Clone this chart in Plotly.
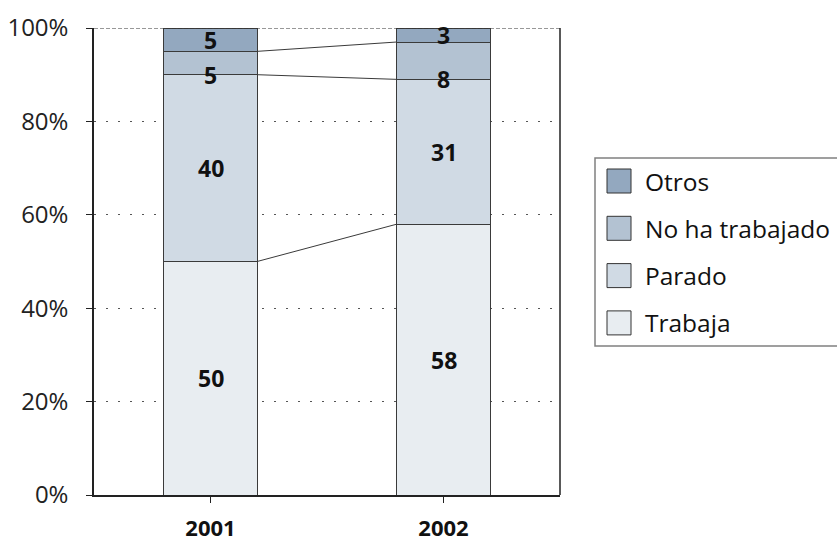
import plotly.graph_objects as go

# Categories and stacked shares (%)
years = ["2001", "2002"]
series_names = ["Trabaja", "Parado", "No ha trabajado", "Otros"]
trabaja = [50, 58]
parado = [40, 31]
no_ha_trabajado = [5, 8]
otros = [5, 3]
y_ticks = [0, 20, 40, 60, 80, 100]
y_tick_labels = ["0%", "20%", "40%", "60%", "80%", "100%"]

series_values = [trabaja, parado, no_ha_trabajado, otros]
colors = ["#e8edf1", "#d0dae4", "#b3c2d2", "#93a8bf"]
outline = "#3a3a3a"
font_family = "Open Sans, Noto Sans, sans-serif"
bar_width = 0.4
xpos = list(range(len(years)))

W, H = 837, 543
ML, MR, MT, MB = 94, 277, 28, 48
PW, PH = W - ML - MR, H - MT - MB


def px_x(px):
    return (px - ML) / PW


def px_y(py):
    return (H - MB - py) / PH


fig = go.Figure()

for name, vals, col in zip(series_names, series_values, colors):
    fig.add_trace(go.Bar(
        x=xpos, y=vals, name=name, width=bar_width,
        marker=dict(color=col, line=dict(color=outline, width=1)),
        hoverinfo="name+y", showlegend=False,
    ))

# Series connector lines between the stacked segments
cum = [[0, 0]]
for vals in series_values:
    cum.append([cum[-1][j] + vals[j] for j in range(len(years))])
for level in cum[1:-1]:
    fig.add_trace(go.Scatter(
        x=[xpos[0] + bar_width / 2, xpos[1] - bar_width / 2],
        y=level, mode="lines", line=dict(color="#3a3a3a", width=1),
        showlegend=False, hoverinfo="skip",
    ))

# Value labels
for i, vals in enumerate(series_values):
    for j, v in enumerate(vals):
        bottom = cum[i][j]
        ylab = bottom if series_names[i] == "No ha trabajado" else bottom + v / 2
        fig.add_annotation(
            x=xpos[j], y=ylab, text=f"<b>{v}</b>", showarrow=False,
            font=dict(family=font_family, size=23, color="#111111"),
        )

# Top dashed line at 100% and right border of the plot area
fig.add_shape(type="line", xref="paper", yref="y", x0=0, x1=1, y0=100, y1=100,
              line=dict(color="#333333", width=1, dash="4px,2px"), layer="above")
fig.add_shape(type="line", xref="paper", yref="paper", x0=1, x1=1, y0=0, y1=1,
              line=dict(color="#222222", width=1.5), layer="above")

# Legend box (top item = last stacked series)
box_l, box_t, box_b = 595, 158, 346
fig.add_shape(type="rect", xref="paper", yref="paper",
              x0=px_x(box_l), x1=px_x(W + 10), y0=px_y(box_b), y1=px_y(box_t),
              line=dict(color="#808080", width=1.5), fillcolor="white")
row0, row_step, sq = 181, 47.3, 24
for k, (name, col) in enumerate(zip(reversed(series_names), reversed(colors))):
    cy = row0 + k * row_step
    fig.add_shape(type="rect", xref="paper", yref="paper",
                  x0=px_x(607), x1=px_x(607 + sq),
                  y0=px_y(cy + sq / 2), y1=px_y(cy - sq / 2),
                  line=dict(color="#333333", width=1), fillcolor=col)
    fig.add_annotation(xref="paper", yref="paper", x=px_x(643), y=px_y(cy),
                       xanchor="left", yanchor="middle", text=name, showarrow=False,
                       font=dict(family=font_family, size=24.5, color="#111111"))

fig.update_layout(
    width=W, height=H,
    margin=dict(l=ML, r=MR, t=MT, b=MB),
    barmode="stack",
    plot_bgcolor="white", paper_bgcolor="white",
    font=dict(family=font_family, size=22, color="#222222"),
    showlegend=False,
    xaxis=dict(
        range=[-0.5, 1.5], automargin=False,
        tickmode="array", tickvals=xpos,
        ticktext=[f"<b>{y}</b>" for y in years],
        showgrid=False, zeroline=False,
        showline=True, linecolor="#222222", linewidth=1.5,
        ticks="outside", ticklen=6, tickcolor="#222222", tickwidth=1,
        tickson="boundaries",
        ticklabelstandoff=7,
        tickfont=dict(family=font_family, size=22, color="#111111"),
    ),
    yaxis=dict(
        range=[0, 100], automargin=False,
        tickmode="array", tickvals=y_ticks, ticktext=y_tick_labels,
        showgrid=True, gridcolor="#555555", gridwidth=1, griddash="2px,10px",
        zeroline=False,
        showline=True, linecolor="#222222", linewidth=1.5,
        ticks="outside", ticklen=6, tickcolor="#222222", tickwidth=1,
        ticklabelstandoff=13,
        tickfont=dict(family=font_family, size=24, color="#222222"),
    ),
)

fig.write_html("out.html")
